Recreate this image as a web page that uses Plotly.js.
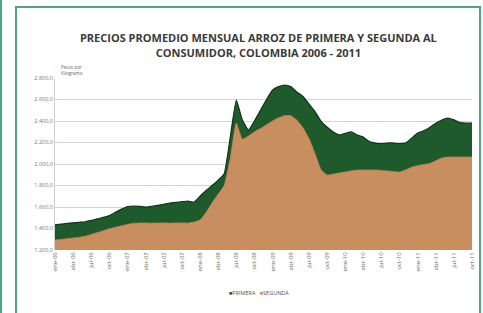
<!DOCTYPE html>
<html>
<head>
<meta charset="utf-8">
<script src="https://cdn.plot.ly/plotly-3.0.1.min.js"></script>
<style>
html,body{margin:0;padding:0;background:#fff;width:483px;height:313px;overflow:hidden;}
#frame{position:absolute;left:15px;top:6px;width:466px;height:320px;border:2px solid #4fa67c;box-sizing:border-box;}
#lline{position:absolute;left:0px;top:0px;width:2px;height:313px;background:#4fa67c;}
#chart{position:absolute;left:0;top:0;width:483px;height:313px;}
</style>
</head>
<body>
<div id="lline"></div>
<div id="frame"></div>
<div id="chart"></div>
<script>
const months = [
 "ene-06","feb-06","mar-06","abr-06","may-06","jun-06","jul-06","ago-06","sep-06","oct-06","nov-06","dic-06",
 "ene-07","feb-07","mar-07","abr-07","may-07","jun-07","jul-07","ago-07","sep-07","oct-07","nov-07","dic-07",
 "ene-08","feb-08","mar-08","abr-08","may-08","jun-08","jul-08","ago-08","sep-08","oct-08","nov-08","dic-08",
 "ene-09","feb-09","mar-09","abr-09","may-09","jun-09","jul-09","ago-09","sep-09","oct-09","nov-09","dic-09",
 "ene-10","feb-10","mar-10","abr-10","may-10","jun-10","jul-10","ago-10","sep-10","oct-10","nov-10","dic-10",
 "ene-11","feb-11","mar-11","abr-11","may-11","jun-11","jul-11","ago-11","sep-11","oct-11"
];
const primera = [
 1433,1440,1447,1453,1458,1463,1475,1490,1503,1520,1550,1580,
 1605,1608,1605,1600,1605,1615,1625,1637,1643,1650,1656,1645,
 1700,1755,1800,1850,1910,2250,2595,2409,2316,2400,2500,2600,
 2688,2720,2735,2720,2670,2630,2560,2490,2400,2344,2300,2270,
 2285,2300,2270,2250,2210,2195,2190,2195,2195,2190,2195,2240,
 2288,2310,2340,2380,2410,2428,2410,2385,2380,2381
];
const segunda = [
 1293,1298,1305,1312,1318,1328,1345,1362,1380,1398,1412,1425,
 1438,1448,1451,1452,1450,1451,1452,1450,1451,1452,1450,1460,
 1479,1550,1640,1720,1800,2050,2381,2230,2260,2300,2330,2365,
 2400,2430,2450,2450,2410,2340,2240,2100,1950,1898,1905,1916,
 1925,1935,1944,1944,1944,1944,1940,1935,1930,1925,1945,1970,
 1985,1995,2005,2030,2055,2065,2065,2065,2065,2065
];
const seriesNames = ["PRIMERA", "SEGUNDA"];
const seriesColors = ["#1f5a2c", "#c98e60"];
const yTickVals = [1200,1400,1600,1800,2000,2200,2400,2600,2800];
const yTickText = ["1.200,0","1.400,0","1.600,0","1.800,0","2.000,0","2.200,0","2.400,0","2.600,0","2.800,0"];
const xTickLabels = months.filter((m,i)=>i%3===0);

const traces = [
 {x: months, y: primera, name: seriesNames[0], type: "scatter", mode: "lines", fill: "tozeroy",
  fillcolor: seriesColors[0], line: {color: "#0e3517", width: 1.2, shape: "spline", smoothing: 0.4}},
 {x: months, y: segunda, name: seriesNames[1], type: "scatter", mode: "lines", fill: "tozeroy",
  fillcolor: seriesColors[1], line: {color: "#c08350", width: 0.8, shape: "spline", smoothing: 0.4}}
];

const legendText = seriesNames.map((n,i)=>"<span style='color:"+seriesColors[i]+"'>■</span>"+n).join("   ");

const layout = {
 width: 483, height: 313,
 paper_bgcolor: "rgba(0,0,0,0)", plot_bgcolor: "rgba(0,0,0,0)",
 margin: {l: 55, r: 11, t: 78, b: 63},
 title: {text: "PRECIOS PROMEDIO MENSUAL ARROZ DE PRIMERA Y SEGUNDA AL<br>CONSUMIDOR, COLOMBIA 2006 - 2011",
   font: {family: "Open Sans, sans-serif", size: 11, color: "#3a3a3a", weight: 700},
   x: 0.535, xanchor: "center", y: 0.865, yanchor: "middle"},
 showlegend: false,
 xaxis: {type: "category", range: [0, months.length - 1], tickmode: "array",
   tickvals: xTickLabels, ticktext: xTickLabels, tickangle: -90,
   tickfont: {family: "Open Sans, sans-serif", size: 6, color: "#666"},
   showgrid: false, showline: false, ticks: "", zeroline: false},
 yaxis: {range: [1200, 2800], tickvals: yTickVals, ticktext: yTickText,
   tickfont: {family: "Open Sans, sans-serif", size: 5.5, color: "#777"},
   showgrid: true, gridcolor: "#d4d4d4", gridwidth: 1, zeroline: false,
   showline: true, linecolor: "#cfcfcf", ticks: "", ticklen: 0},
 annotations: [
   {text: "Pesos por<br>Kilogramo", xref: "paper", yref: "paper", x: 0.01, y: 1.0, xanchor: "left", yanchor: "bottom",
    showarrow: false, align: "left", font: {family: "Open Sans, sans-serif", size: 4.5, color: "#666"}},
   {text: legendText, xref: "paper", yref: "paper", x: 0.49, y: -0.25, xanchor: "center", yanchor: "middle",
    showarrow: false, font: {family: "Open Sans, sans-serif", size: 5.5, color: "#555"}}
 ]
};

Plotly.newPlot("chart", traces, layout, {displayModeBar: false, staticPlot: true});
</script>
</body>
</html>
